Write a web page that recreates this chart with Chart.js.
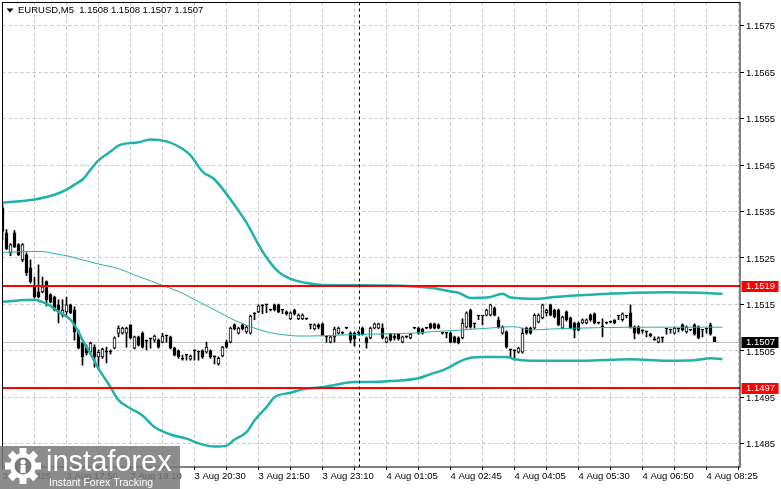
<!DOCTYPE html>
<html>
<head>
<meta charset="utf-8">
<title>EURUSD M5</title>
<script src="https://cdn.jsdelivr.net/npm/chart.js@4.4.1/dist/chart.umd.min.js"></script>
<style>
  html, body { margin: 0; padding: 0; background: #fff; }
  #wrap { width: 781px; height: 489px; }
</style>
</head>
<body>
<div id="wrap"><canvas id="chart" width="781" height="489"></canvas></div>
<script>
// symbol, time axis and level data
const symbolName = 'EURUSD,M5';
const timeLabels = ['3 Aug 2025', '3 Aug 17:50', '3 Aug 19:10', '3 Aug 20:30', '3 Aug 21:50', '3 Aug 23:10',
  '4 Aug 01:05', '4 Aug 02:45', '4 Aug 04:05', '4 Aug 05:30', '4 Aug 06:50', '4 Aug 08:25'];
const barsPerLabel = 16;
const barsPerGrid = 8;
const priceTicks = [1.1485, 1.1495, 1.1505, 1.1515, 1.1525, 1.1535, 1.1545, 1.1555, 1.1565, 1.1575];
const levelLines = [1.1519, 1.1497];
const bidPrice = 1.1507;
const separatorBar = 89.1;

// M5 candles, one entry per bar
const opens = [
  1.15358,1.15304,1.15261,1.15304,1.15279,1.15246,1.15257,1.15229,1.15188,1.15177,
  1.15177,1.15199,1.15171,1.15166,1.15149,1.15127,1.15134,1.15149,1.15138,1.15091,
  1.15067,1.15058,1.15047,1.15058,1.15037,1.15037,1.15047,1.15047,1.15056,1.15088,
  1.15088,1.15088,1.15106,1.15056,1.15080,1.15088,1.15071,1.15076,1.15073,1.15073,
  1.15069,1.15082,1.15080,1.15056,1.15050,1.15032,1.15041,1.15032,1.15050,1.15047,
  1.15050,1.15047,1.15050,1.15037,1.15022,1.15039,1.15069,1.15069,1.15106,1.15088,
  1.15106,1.15091,1.15088,1.15130,1.15134,1.15147,1.15149,1.15138,1.15149,1.15149,
  1.15138,1.15134,1.15119,1.15138,1.15119,1.15119,1.15119,1.15106,1.15097,1.15106,
  1.15108,1.15080,1.15069,1.15080,1.15088,1.15088,1.15099,1.15088,1.15088,1.15088,
  1.15099,1.15078,1.15078,1.15099,1.15099,1.15099,1.15069,1.15086,1.15082,1.15086,
  1.15069,1.15080,1.15078,1.15099,1.15099,1.15097,1.15099,1.15108,1.15108,1.15106,
  1.15088,1.15088,1.15088,1.15080,1.15078,1.15078,1.15101,1.15138,1.15108,1.15125,
  1.15125,1.15127,1.15127,1.15142,1.15117,1.15088,1.15091,1.15052,1.15050,1.15047,
  1.15047,1.15099,1.15099,1.15099,1.15112,1.15121,1.15132,1.15149,1.15138,1.15138,
  1.15099,1.15134,1.15121,1.15110,1.15110,1.15110,1.15110,1.15127,1.15130,1.15110,
  1.15104,1.15110,1.15112,1.15117,1.15125,1.15117,1.15125,1.15132,1.15101,1.15101,
  1.15093,1.15091,1.15086,1.15073,1.15069,1.15078,1.15097,1.15095,1.15088,1.15097,
  1.15106,1.15091,1.15095,1.15106,1.15101,1.15095,1.15097,1.15106,1.15080
];
const highs = [
  1.15365,1.15311,1.15281,1.15309,1.15281,1.15281,1.15261,1.15246,1.15209,1.15235,
  1.15209,1.15201,1.15173,1.15168,1.15160,1.15160,1.15166,1.15151,1.15145,1.15095,
  1.15069,1.15063,1.15069,1.15063,1.15052,1.15056,1.15058,1.15052,1.15080,1.15104,
  1.15101,1.15101,1.15106,1.15082,1.15082,1.15091,1.15073,1.15076,1.15084,1.15076,
  1.15088,1.15084,1.15082,1.15058,1.15052,1.15041,1.15041,1.15041,1.15052,1.15050,
  1.15052,1.15069,1.15052,1.15039,1.15037,1.15060,1.15073,1.15101,1.15108,1.15101,
  1.15108,1.15104,1.15127,1.15132,1.15149,1.15149,1.15149,1.15140,1.15151,1.15151,
  1.15138,1.15136,1.15134,1.15140,1.15130,1.15130,1.15119,1.15106,1.15108,1.15108,
  1.15110,1.15080,1.15082,1.15101,1.15101,1.15091,1.15099,1.15091,1.15091,1.15093,
  1.15101,1.15080,1.15101,1.15110,1.15110,1.15108,1.15080,1.15088,1.15086,1.15088,
  1.15082,1.15082,1.15088,1.15099,1.15101,1.15099,1.15099,1.15110,1.15110,1.15108,
  1.15088,1.15088,1.15091,1.15082,1.15080,1.15119,1.15134,1.15140,1.15108,1.15125,
  1.15125,1.15140,1.15151,1.15145,1.15123,1.15104,1.15093,1.15052,1.15052,1.15058,
  1.15099,1.15101,1.15101,1.15130,1.15130,1.15151,1.15140,1.15151,1.15140,1.15140,
  1.15125,1.15136,1.15123,1.15112,1.15112,1.15119,1.15119,1.15130,1.15132,1.15112,
  1.15119,1.15112,1.15114,1.15117,1.15125,1.15132,1.15125,1.15149,1.15104,1.15104,
  1.15095,1.15091,1.15088,1.15080,1.15080,1.15078,1.15097,1.15097,1.15101,1.15097,
  1.15108,1.15104,1.15095,1.15108,1.15104,1.15095,1.15097,1.15110,1.15080
];
const lows = [
  1.15289,1.15268,1.15255,1.15272,1.15255,1.15242,1.15212,1.15196,1.15164,1.15164,
  1.15175,1.15147,1.15153,1.15136,1.15110,1.15123,1.15127,1.15130,1.15073,1.15054,
  1.15019,1.15041,1.15045,1.15015,1.15009,1.15034,1.15024,1.15043,1.15054,1.15080,
  1.15086,1.15058,1.15076,1.15054,1.15060,1.15056,1.15052,1.15056,1.15069,1.15056,
  1.15067,1.15069,1.15054,1.15039,1.15034,1.15030,1.15030,1.15030,1.15030,1.15030,
  1.15034,1.15045,1.15034,1.15022,1.15019,1.15037,1.15056,1.15067,1.15095,1.15086,
  1.15095,1.15088,1.15086,1.15117,1.15132,1.15130,1.15132,1.15136,1.15136,1.15132,
  1.15130,1.15127,1.15117,1.15127,1.15117,1.15117,1.15117,1.15097,1.15095,1.15097,
  1.15082,1.15069,1.15067,1.15069,1.15086,1.15086,1.15097,1.15067,1.15060,1.15084,
  1.15084,1.15056,1.15076,1.15097,1.15097,1.15076,1.15067,1.15071,1.15073,1.15073,
  1.15067,1.15078,1.15076,1.15097,1.15086,1.15086,1.15097,1.15097,1.15097,1.15097,
  1.15086,1.15078,1.15067,1.15067,1.15065,1.15076,1.15099,1.15099,1.15099,1.15117,
  1.15106,1.15125,1.15125,1.15125,1.15099,1.15086,1.15056,1.15037,1.15030,1.15045,
  1.15045,1.15086,1.15086,1.15097,1.15110,1.15119,1.15125,1.15125,1.15121,1.15104,
  1.15097,1.15114,1.15097,1.15078,1.15093,1.15108,1.15108,1.15114,1.15108,1.15108,
  1.15080,1.15108,1.15110,1.15108,1.15117,1.15114,1.15121,1.15099,1.15076,1.15086,
  1.15088,1.15080,1.15080,1.15073,1.15067,1.15069,1.15086,1.15088,1.15086,1.15091,
  1.15093,1.15088,1.15093,1.15084,1.15076,1.15080,1.15088,1.15084,1.15070
];
const closes = [
  1.15307,1.15270,1.15279,1.15274,1.15257,1.15279,1.15218,1.15199,1.15166,1.15166,
  1.15188,1.15160,1.15155,1.15138,1.15138,1.15138,1.15149,1.15132,1.15091,1.15056,
  1.15037,1.15045,1.15067,1.15037,1.15047,1.15054,1.15047,1.15047,1.15078,1.15099,
  1.15099,1.15099,1.15078,1.15080,1.15063,1.15058,1.15071,1.15076,1.15082,1.15058,
  1.15082,1.15082,1.15056,1.15041,1.15037,1.15032,1.15041,1.15039,1.15050,1.15047,
  1.15037,1.15058,1.15037,1.15037,1.15034,1.15058,1.15058,1.15099,1.15097,1.15099,
  1.15097,1.15101,1.15125,1.15130,1.15147,1.15147,1.15149,1.15138,1.15138,1.15134,
  1.15138,1.15130,1.15132,1.15130,1.15127,1.15127,1.15119,1.15106,1.15106,1.15101,
  1.15084,1.15080,1.15080,1.15097,1.15099,1.15088,1.15099,1.15073,1.15076,1.15088,
  1.15086,1.15067,1.15099,1.15108,1.15108,1.15078,1.15078,1.15073,1.15078,1.15076,
  1.15080,1.15080,1.15086,1.15099,1.15088,1.15088,1.15099,1.15099,1.15099,1.15099,
  1.15088,1.15088,1.15069,1.15069,1.15067,1.15110,1.15132,1.15101,1.15108,1.15125,
  1.15125,1.15138,1.15149,1.15127,1.15101,1.15101,1.15058,1.15052,1.15050,1.15056,
  1.15088,1.15088,1.15088,1.15127,1.15127,1.15149,1.15138,1.15127,1.15123,1.15106,
  1.15123,1.15117,1.15099,1.15095,1.15095,1.15117,1.15117,1.15117,1.15110,1.15110,
  1.15101,1.15110,1.15112,1.15110,1.15125,1.15130,1.15125,1.15101,1.15088,1.15088,
  1.15093,1.15091,1.15082,1.15073,1.15078,1.15078,1.15097,1.15095,1.15099,1.15097,
  1.15095,1.15101,1.15095,1.15086,1.15078,1.15095,1.15097,1.15086,1.15070
];

// Bollinger bands, sampled at bar positions
const upperBars = [0, 8, 13, 16, 18, 20, 22, 24, 27, 29, 34, 37, 41, 44, 47, 50, 53, 57, 61, 64,
  66, 69, 72, 76, 80, 97, 107, 112, 114, 117, 122, 125, 127, 134, 138, 147, 166, 174, 180];
const upperBand = [1.15369, 1.15376, 1.15386, 1.15397, 1.15408, 1.15419, 1.15440, 1.15460, 1.15479, 1.15492,
  1.15499, 1.15505, 1.15501, 1.15490, 1.15471, 1.15436, 1.15419, 1.15376, 1.15326, 1.15279,
  1.15251, 1.15220, 1.15205, 1.15196, 1.15192, 1.15191, 1.15186, 1.15178, 1.15175, 1.15164,
  1.15166, 1.15173, 1.15165, 1.15162, 1.15166, 1.15171, 1.15176, 1.15175, 1.15173];
const middleBars = [0, 7, 10, 12, 17, 19, 24, 29, 34, 37, 39, 44, 49, 54, 57, 62, 66, 71, 74, 77,
  84, 92, 102, 107, 111, 120, 128, 132, 137, 149, 162, 180];
const middleBand = [1.15262, 1.15264, 1.15264, 1.15261, 1.15253, 1.15248, 1.15237, 1.15227, 1.15210, 1.15201,
  1.15194, 1.15178, 1.15156, 1.15134, 1.15120, 1.15102, 1.15091, 1.15084, 1.15082, 1.15082,
  1.15084, 1.15086, 1.15088, 1.15091, 1.15093, 1.15098, 1.15102, 1.15095, 1.15097, 1.15100,
  1.15101, 1.15101];
const lowerBars = [0, 8, 10, 12, 14, 17, 19, 20, 22, 24, 27, 29, 32, 35, 38, 42, 46, 49, 53, 56,
  58, 61, 63, 66, 68, 72, 76, 79, 82, 88, 92, 97, 104, 107, 110, 112, 114, 117, 120, 126,
  128, 132, 145, 157, 166, 173, 177, 180];
const lowerBand = [1.15156, 1.15160, 1.15155, 1.15147, 1.15134, 1.15117, 1.15091, 1.15073, 1.15044, 1.15012,
  1.14972, 1.14944, 1.14926, 1.14911, 1.14886, 1.14870, 1.14861, 1.14851, 1.14844, 1.14846,
  1.14859, 1.14875, 1.14900, 1.14929, 1.14950, 1.14960, 1.14969, 1.14971, 1.14975, 1.14983,
  1.14983, 1.14985, 1.14991, 1.15000, 1.15008, 1.15016, 1.15026, 1.15035, 1.15037, 1.15037,
  1.15032, 1.15029, 1.15029, 1.15032, 1.15029, 1.15030, 1.15034, 1.15032];

const FONT = '"Liberation Sans", Arial, sans-serif';
const bandColor = '#20b2aa';

const bodyData = opens.map((o, i) => ({ x: i, y: [o, closes[i]] }));
const wickData = opens.map((o, i) => ({ x: i, y: [lows[i], highs[i]] }));
const bodyFill = opens.map((o, i) => closes[i] > o ? '#ffffff' : '#000000');
const toPoints = (bars, vals) => bars.map((b, k) => ({ x: b, y: vals[k] }));

function drawGear(ctx, cx, cy) {
  ctx.save();
  ctx.translate(cx, cy);
  ctx.fillStyle = '#ffffff';
  for (let k = 0; k < 8; k++) {
    ctx.save();
    ctx.rotate(k * Math.PI / 4);
    ctx.fillRect(-3.5, -18, 7, 8);
    ctx.restore();
  }
  ctx.beginPath();
  ctx.arc(0, 0, 13, 0, Math.PI * 2);
  ctx.fill();
  ctx.fillStyle = 'rgba(120,120,120,1)';
  ctx.beginPath();
  ctx.arc(0, 0, 8.5, 0, Math.PI * 2);
  ctx.fill();
  ctx.fillStyle = '#ffffff';
  ctx.beginPath();
  ctx.arc(0, -4, 2.6, 0, Math.PI * 2);
  ctx.fill();
  ctx.fillRect(-2.5, -1, 5, 8);
  ctx.restore();
}

const chartDecor = {
  id: 'chartDecor',
  beforeDraw(chart) {
    const ctx = chart.ctx;
    ctx.save();
    ctx.fillStyle = '#ffffff';
    ctx.fillRect(0, 0, chart.width, chart.height);
    ctx.restore();
  },
  beforeDatasetsDraw(chart) {
    const { ctx, chartArea: a, scales: { y } } = chart;
    const py = Math.round(y.getPixelForValue(bidPrice)) + 0.5;
    ctx.save();
    ctx.strokeStyle = '#c0c0c0';
    ctx.lineWidth = 1;
    ctx.beginPath();
    ctx.moveTo(a.left, py);
    ctx.lineTo(a.right, py);
    ctx.stroke();
    ctx.restore();
  },
  afterDatasetsDraw(chart) {
    const { ctx, chartArea: a, scales: { x, y } } = chart;
    ctx.save();
    // support / resistance levels
    ctx.strokeStyle = '#ff0000';
    ctx.lineWidth = 2;
    levelLines.forEach(v => {
      const py = Math.round(y.getPixelForValue(v));
      ctx.beginPath();
      ctx.moveTo(a.left, py);
      ctx.lineTo(a.right, py);
      ctx.stroke();
    });
    // vertical separator
    const sx = Math.round(x.getPixelForValue(separatorBar)) + 0.5;
    ctx.strokeStyle = '#000000';
    ctx.lineWidth = 1;
    ctx.setLineDash([3, 3]);
    ctx.beginPath();
    ctx.moveTo(sx, a.top);
    ctx.lineTo(sx, a.bottom);
    ctx.stroke();
    ctx.setLineDash([]);
    // frame
    ctx.strokeRect(a.left, a.top, a.right - a.left, a.bottom - a.top);
    ctx.restore();
  },
  afterDraw(chart) {
    const { ctx, chartArea: a, scales: { y } } = chart;
    ctx.save();
    // price tags on the axis
    ctx.font = '9.5px ' + FONT;
    ctx.textBaseline = 'middle';
    ctx.textAlign = 'left';
    const tags = [[levelLines[0], '#ff0000'], [bidPrice, '#000000'], [levelLines[1], '#ff0000']];
    tags.forEach(([v, c]) => {
      const py = y.getPixelForValue(v);
      ctx.fillStyle = c;
      ctx.fillRect(a.right + 1.5, Math.round(py) - 5, 37, 11);
      ctx.fillStyle = '#ffffff';
      ctx.fillText(v.toFixed(4), a.right + 6, Math.round(py) + 0.5);
    });
    // title with last bar OHLC
    const n = opens.length - 1;
    ctx.fillStyle = '#000000';
    ctx.beginPath();
    ctx.moveTo(a.left + 4, a.top + 6);
    ctx.lineTo(a.left + 11, a.top + 6);
    ctx.lineTo(a.left + 7.5, a.top + 10);
    ctx.closePath();
    ctx.fill();
    ctx.fillText(symbolName + '  ' + [opens[n], highs[n], lows[n], closes[n]].map(v => v.toFixed(4)).join(' '),
      a.left + 15.5, a.top + 8);
    // watermark
    ctx.fillStyle = 'rgba(120,120,120,0.85)';
    ctx.fillRect(0, 446, 180, 43);
    drawGear(ctx, 23, 466);
    ctx.fillStyle = '#ffffff';
    ctx.textBaseline = 'alphabetic';
    ctx.font = '29px ' + FONT;
    ctx.fillText('instaforex', 46, 471);
    ctx.font = '10.5px ' + FONT;
    ctx.fillText('Instant Forex Tracking', 49, 486);
    ctx.restore();
  }
};

new Chart(document.getElementById('chart'), {
  type: 'bar',
  data: {
    datasets: [
      { type: 'line', label: 'Upper', data: toPoints(upperBars, upperBand), borderColor: bandColor, borderWidth: 2.5,
        pointRadius: 0, cubicInterpolationMode: 'monotone', order: 0 },
      { type: 'line', label: 'Middle', data: toPoints(middleBars, middleBand), borderColor: bandColor, borderWidth: 1,
        pointRadius: 0, cubicInterpolationMode: 'monotone', order: 0 },
      { type: 'line', label: 'Lower', data: toPoints(lowerBars, lowerBand), borderColor: bandColor, borderWidth: 2.5,
        pointRadius: 0, cubicInterpolationMode: 'monotone', order: 0 },
      { label: 'Body', data: bodyData, backgroundColor: bodyFill, borderColor: '#000000', borderWidth: 1,
        borderSkipped: false, barThickness: 3, minBarLength: 1, grouped: false, order: 1 },
      { label: 'Wick', data: wickData, backgroundColor: '#000000', borderWidth: 0,
        barThickness: 1, grouped: false, order: 2 }
    ]
  },
  options: {
    responsive: false,
    animation: false,
    devicePixelRatio: 1,
    layout: { padding: { left: 2.5, top: 2.5, right: 0, bottom: 0 } },
    plugins: { legend: { display: false }, tooltip: { enabled: false } },
    scales: {
      x: {
        type: 'linear',
        offset: false,
        min: 0,
        max: 184.375,
        grid: { offset: false, color: '#c4c4c4', lineWidth: 1, tickLength: 3, tickColor: '#000000' },
        border: { display: false, dash: [3, 3] },
        ticks: {
          autoSkip: false, maxRotation: 0, align: 'start', padding: 1, color: '#000000',
          font: { family: FONT, size: 9.5 },
          callback: v => (v % barsPerLabel === 0 ? (timeLabels[v / barsPerLabel] || '') : '')
        },
        afterBuildTicks(scale) {
          const t = [];
          for (let v = 0; v <= scale.max; v += barsPerGrid) t.push({ value: v });
          scale.ticks = t;
        },
        afterFit(scale) { scale.height = 22; scale.paddingLeft = 0; scale.paddingRight = 0; }
      },
      y: {
        position: 'right',
        min: 1.1480,
        max: 1.1580,
        grid: { color: '#c4c4c4', lineWidth: 1, tickLength: 4, tickColor: '#000000' },
        border: { display: false, dash: [3, 3] },
        ticks: {
          padding: 2, color: '#000000', labelOffset: 1,
          font: { family: FONT, size: 9.5 },
          callback: v => Number(v).toFixed(4)
        },
        afterBuildTicks(scale) { scale.ticks = priceTicks.map(v => ({ value: v })); },
        afterFit(scale) { scale.width = 41; scale.paddingTop = 0; scale.paddingBottom = 0; }
      }
    }
  },
  plugins: [chartDecor]
});
</script>
</body>
</html>
